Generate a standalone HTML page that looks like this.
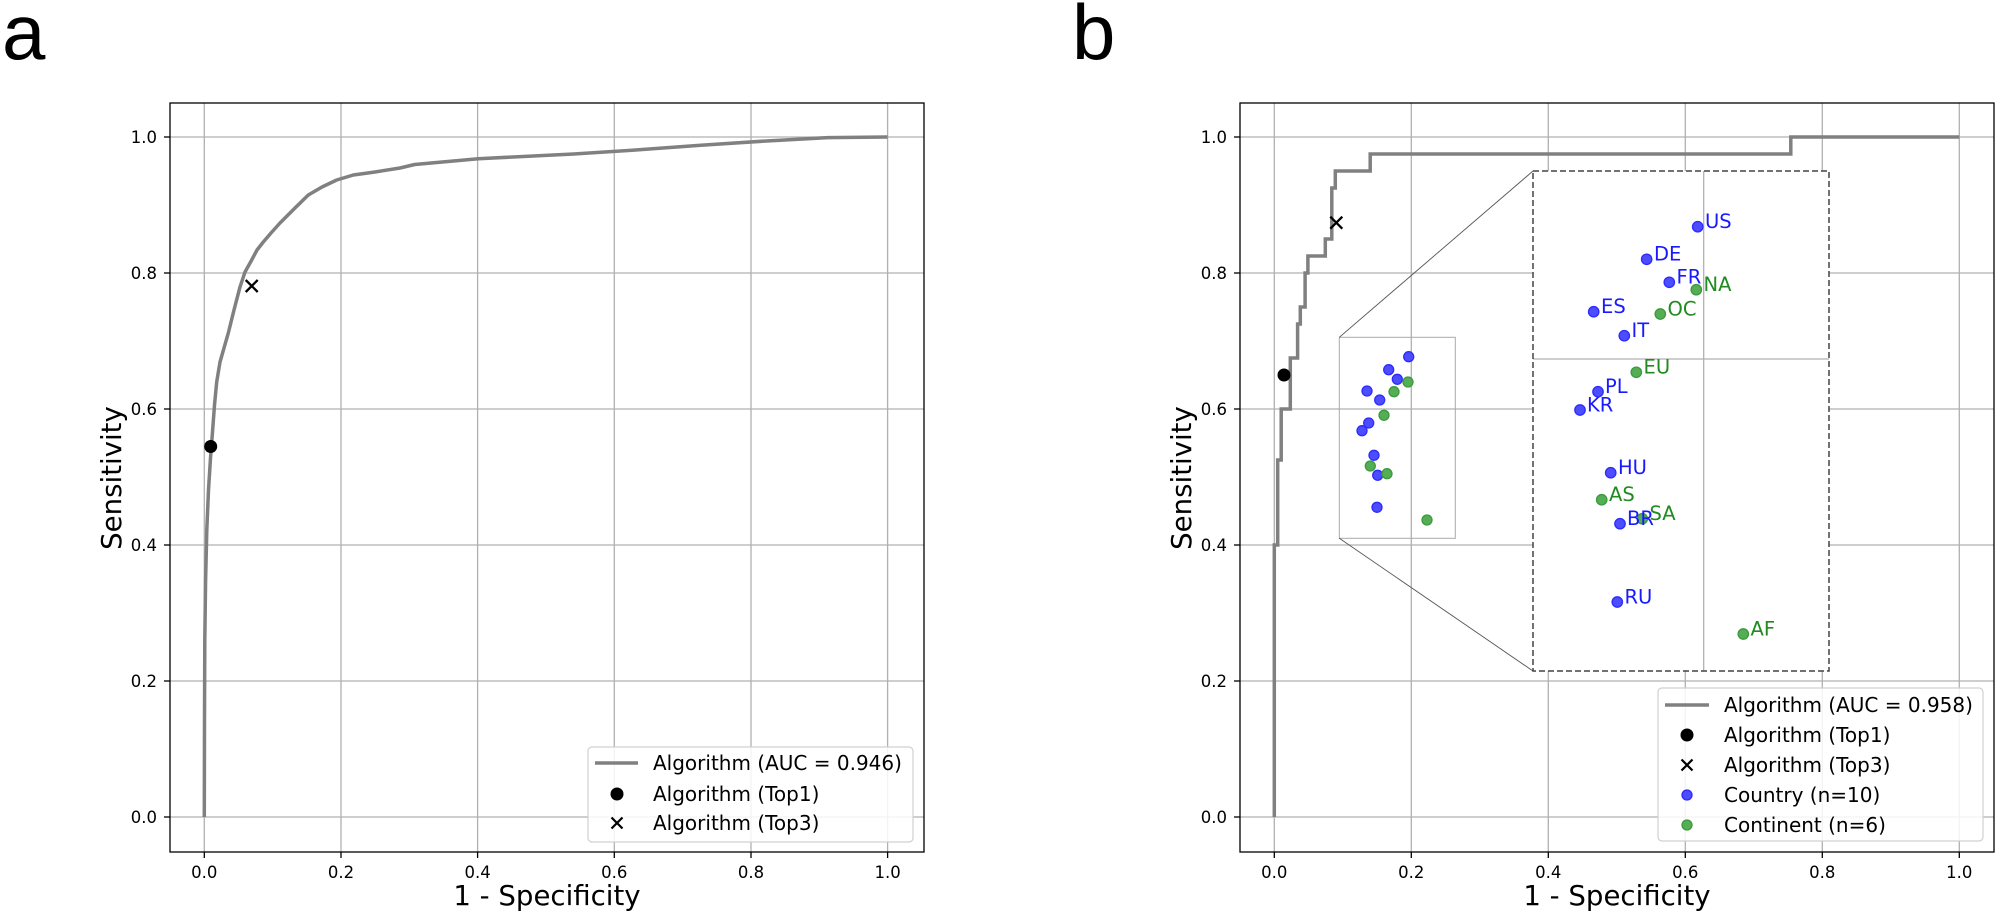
<!DOCTYPE html>
<html><head><meta charset="utf-8"><style>
html,body{margin:0;padding:0;background:#fff;}
svg{display:block;font-family:"DejaVu Sans","Liberation Sans",sans-serif;}
.tk{font-size:16.5px;fill:#000;}
.lg{font-size:20px;fill:#000;}
.lb{font-size:19.5px;}
</style></head><body>
<svg width="2000" height="920" viewBox="0 0 2000 920" xmlns="http://www.w3.org/2000/svg">
<rect width="2000" height="920" fill="#fff"/>
<text x="2" y="59" font-size="78" font-family="Liberation Sans,sans-serif">a</text>
<text x="1072" y="59" font-size="78" font-family="Liberation Sans,sans-serif">b</text>

<!-- ===== Panel a ===== -->
<g stroke="#b0b0b0" stroke-width="1.3">
<line x1="204.3" y1="103" x2="204.3" y2="852"/><line x1="341" y1="103" x2="341" y2="852"/><line x1="477.6" y1="103" x2="477.6" y2="852"/><line x1="614.3" y1="103" x2="614.3" y2="852"/><line x1="751" y1="103" x2="751" y2="852"/><line x1="887.6" y1="103" x2="887.6" y2="852"/>
<line x1="170" y1="817" x2="924" y2="817"/><line x1="170" y1="681" x2="924" y2="681"/><line x1="170" y1="545" x2="924" y2="545"/><line x1="170" y1="409" x2="924" y2="409"/><line x1="170" y1="273" x2="924" y2="273"/><line x1="170" y1="137" x2="924" y2="137"/>
</g>
<path d="M204.3,817 L204.5,720 L204.8,640 L205.6,580 L206.8,530 L208.5,490 L210.5,458 L212.5,432 L214.5,405 L216.7,382 L220,362 L224,348 L228.3,333 L234,310 L240,287 L245,272 L251.7,260 L257,250 L263.3,242 L271,233 L280,223 L295,208 L308.3,195 L322,187 L336.7,180 L353.3,175 L375,172 L400,168 L414.7,164.5 L478.3,158.7 L573.7,154 L637.2,149.9 L700.8,145.2 L764.4,141.1 L827.9,137.6 L887.6,137" fill="none" stroke="#808080" stroke-width="3.5" stroke-linejoin="round"/>
<circle cx="210.7" cy="446.5" r="6.5" fill="#000"/>
<path d="M245.7,280 L257.7,292 M257.7,280 L245.7,292" stroke="#000" stroke-width="2.3"/>
<rect x="170" y="103" width="754" height="749" fill="none" stroke="#000" stroke-width="1.3"/>
<g stroke="#000" stroke-width="1.3">
<line x1="204.3" y1="852" x2="204.3" y2="858"/><line x1="341" y1="852" x2="341" y2="858"/><line x1="477.6" y1="852" x2="477.6" y2="858"/><line x1="614.3" y1="852" x2="614.3" y2="858"/><line x1="751" y1="852" x2="751" y2="858"/><line x1="887.6" y1="852" x2="887.6" y2="858"/>
<line x1="164" y1="817" x2="170" y2="817"/><line x1="164" y1="681" x2="170" y2="681"/><line x1="164" y1="545" x2="170" y2="545"/><line x1="164" y1="409" x2="170" y2="409"/><line x1="164" y1="273" x2="170" y2="273"/><line x1="164" y1="137" x2="170" y2="137"/>
</g>
<g class="tk" text-anchor="middle">
<text x="204.3" y="878">0.0</text><text x="341" y="878">0.2</text><text x="477.6" y="878">0.4</text><text x="614.3" y="878">0.6</text><text x="751" y="878">0.8</text><text x="887.6" y="878">1.0</text>
</g>
<g class="tk" text-anchor="end">
<text x="157" y="823">0.0</text><text x="157" y="687">0.2</text><text x="157" y="551">0.4</text><text x="157" y="415">0.6</text><text x="157" y="279">0.8</text><text x="157" y="143">1.0</text>
</g>
<text x="547" y="905" font-size="27.6" text-anchor="middle">1 - Specificity</text>
<text transform="translate(121,478) rotate(-90)" font-size="27.6" text-anchor="middle">Sensitivity</text>
<rect x="588" y="747" width="325" height="95" rx="4" fill="#fff" fill-opacity="0.85" stroke="#d0d0d0" stroke-width="1.2"/>
<line x1="595" y1="763" x2="638" y2="763" stroke="#808080" stroke-width="3.5"/>
<circle cx="617" cy="794" r="6.5" fill="#000"/>
<path d="M611.5,817.5 L622.5,828.5 M622.5,817.5 L611.5,828.5" stroke="#000" stroke-width="2.2"/>
<text class="lg" x="653" y="770">Algorithm (AUC = 0.946)</text>
<text class="lg" x="653" y="801">Algorithm (Top1)</text>
<text class="lg" x="653" y="830">Algorithm (Top3)</text>

<!-- ===== Panel b ===== -->
<g stroke="#b0b0b0" stroke-width="1.3">
<line x1="1274.3" y1="103" x2="1274.3" y2="852"/><line x1="1411.3" y1="103" x2="1411.3" y2="852"/><line x1="1548.3" y1="103" x2="1548.3" y2="852"/><line x1="1685.3" y1="103" x2="1685.3" y2="852"/><line x1="1822.3" y1="103" x2="1822.3" y2="852"/><line x1="1959.3" y1="103" x2="1959.3" y2="852"/>
<line x1="1240" y1="817" x2="1994" y2="817"/><line x1="1240" y1="681" x2="1994" y2="681"/><line x1="1240" y1="545" x2="1994" y2="545"/><line x1="1240" y1="409" x2="1994" y2="409"/><line x1="1240" y1="273" x2="1994" y2="273"/><line x1="1240" y1="137" x2="1994" y2="137"/>
</g>
<path d="M1274.3,817 V545 H1277.7 V460 H1281.2 V409 H1290.3 V358 H1297.6 V324 H1300.3 V307 H1305.1 V273 H1307.9 V256 H1325.3 V239 H1331.8 V188 H1335.3 V171 H1370.2 V154 H1790.8 V137 H1959.3" fill="none" stroke="#808080" stroke-width="3.5"/>
<circle cx="1284" cy="375" r="6.5" fill="#000"/>
<path d="M1330.3,216.7 L1342.3,228.7 M1342.3,216.7 L1330.3,228.7" stroke="#000" stroke-width="2.3"/>
<rect x="1339.3" y="337.3" width="116" height="201" fill="none" stroke="#aaa" stroke-width="1"/>
<g stroke-width="1.3">
<g fill="#4d4dff" stroke="#2b2bff">
<circle cx="1408.7" cy="356.7" r="5"/><circle cx="1388.7" cy="369.7" r="5"/><circle cx="1397.3" cy="379.3" r="5"/><circle cx="1367" cy="391" r="5"/><circle cx="1379.7" cy="400" r="5"/><circle cx="1368.7" cy="423" r="5"/><circle cx="1362" cy="430.7" r="5"/><circle cx="1374" cy="455.3" r="5"/><circle cx="1377.7" cy="475.3" r="5"/><circle cx="1377" cy="507.3" r="5"/>
</g>
<g fill="#55ad55" stroke="#3c9a3c">
<circle cx="1408" cy="382" r="5"/><circle cx="1394" cy="391.7" r="5"/><circle cx="1384" cy="415.3" r="5"/><circle cx="1370.3" cy="466" r="5"/><circle cx="1387" cy="473.7" r="5"/><circle cx="1427" cy="520" r="5"/>
</g>
</g>
<line x1="1339.3" y1="337.3" x2="1533" y2="171" stroke="#555" stroke-width="0.9"/>
<line x1="1339.3" y1="538.3" x2="1533" y2="671" stroke="#555" stroke-width="0.9"/>
<rect x="1533" y="171" width="296" height="500" fill="#fff"/>
<line x1="1703.7" y1="171" x2="1703.7" y2="671" stroke="#b0b0b0" stroke-width="1.3"/>
<line x1="1533" y1="359" x2="1829" y2="359" stroke="#b0b0b0" stroke-width="1.3"/>
<g stroke-width="1.3">
<g fill="#4d4dff" stroke="#2b2bff">
<circle cx="1697.7" cy="226.7" r="5.2"/><circle cx="1646.7" cy="259.3" r="5.2"/><circle cx="1669.3" cy="282.3" r="5.2"/><circle cx="1593.7" cy="311.7" r="5.2"/><circle cx="1624.3" cy="335.7" r="5.2"/><circle cx="1598" cy="391.7" r="5.2"/><circle cx="1580" cy="410" r="5.2"/><circle cx="1610.7" cy="472.7" r="5.2"/><circle cx="1620" cy="523.7" r="5.2"/><circle cx="1617.3" cy="602" r="5.2"/>
</g>
<g fill="#55ad55" stroke="#3c9a3c">
<circle cx="1696.3" cy="289.7" r="5.2"/><circle cx="1660.3" cy="314" r="5.2"/><circle cx="1636.3" cy="372.3" r="5.2"/><circle cx="1601.7" cy="499.7" r="5.2"/><circle cx="1642.3" cy="518.7" r="5.2"/><circle cx="1743.3" cy="634" r="5.2"/>
</g>
</g>
<g class="lb" fill="#1a1aff">
<text x="1705" y="228">US</text><text x="1654" y="260.5">DE</text><text x="1676.5" y="283.5">FR</text><text x="1601" y="313">ES</text><text x="1631.5" y="337">IT</text><text x="1605" y="393">PL</text><text x="1587" y="411.5">KR</text><text x="1618" y="474">HU</text><text x="1627" y="525">BR</text><text x="1624.5" y="603.5">RU</text>
</g>
<g class="lb" fill="#218a21">
<text x="1703.5" y="291">NA</text><text x="1667.5" y="315.5">OC</text><text x="1643.5" y="373.5">EU</text><text x="1609" y="501">AS</text><text x="1649.5" y="520">SA</text><text x="1750.5" y="635.5">AF</text>
</g>
<rect x="1533" y="171" width="296" height="500" fill="none" stroke="#444" stroke-width="1.5" stroke-dasharray="6,3"/>
<rect x="1240" y="103" width="754" height="749" fill="none" stroke="#000" stroke-width="1.3"/>
<g stroke="#000" stroke-width="1.3">
<line x1="1274.3" y1="852" x2="1274.3" y2="858"/><line x1="1411.3" y1="852" x2="1411.3" y2="858"/><line x1="1548.3" y1="852" x2="1548.3" y2="858"/><line x1="1685.3" y1="852" x2="1685.3" y2="858"/><line x1="1822.3" y1="852" x2="1822.3" y2="858"/><line x1="1959.3" y1="852" x2="1959.3" y2="858"/>
<line x1="1234" y1="817" x2="1240" y2="817"/><line x1="1234" y1="681" x2="1240" y2="681"/><line x1="1234" y1="545" x2="1240" y2="545"/><line x1="1234" y1="409" x2="1240" y2="409"/><line x1="1234" y1="273" x2="1240" y2="273"/><line x1="1234" y1="137" x2="1240" y2="137"/>
</g>
<g class="tk" text-anchor="middle">
<text x="1274.3" y="878">0.0</text><text x="1411.3" y="878">0.2</text><text x="1548.3" y="878">0.4</text><text x="1685.3" y="878">0.6</text><text x="1822.3" y="878">0.8</text><text x="1959.3" y="878">1.0</text>
</g>
<g class="tk" text-anchor="end">
<text x="1227" y="823">0.0</text><text x="1227" y="687">0.2</text><text x="1227" y="551">0.4</text><text x="1227" y="415">0.6</text><text x="1227" y="279">0.8</text><text x="1227" y="143">1.0</text>
</g>
<text x="1617" y="905" font-size="27.6" text-anchor="middle">1 - Specificity</text>
<text transform="translate(1191,478) rotate(-90)" font-size="27.6" text-anchor="middle">Sensitivity</text>
<rect x="1658" y="688" width="325" height="153" rx="4" fill="#fff" fill-opacity="0.85" stroke="#d0d0d0" stroke-width="1.2"/>
<line x1="1665" y1="705" x2="1709" y2="705" stroke="#808080" stroke-width="3.5"/>
<circle cx="1687" cy="735" r="6.5" fill="#000"/>
<path d="M1681.5,759.5 L1692.5,770.5 M1692.5,759.5 L1681.5,770.5" stroke="#000" stroke-width="2.2"/>
<circle cx="1687" cy="795" r="5" fill="#4d4dff" stroke="#2b2bff" stroke-width="1.3"/>
<circle cx="1687" cy="825" r="5" fill="#55ad55" stroke="#3c9a3c" stroke-width="1.3"/>
<text class="lg" x="1724" y="712">Algorithm (AUC = 0.958)</text>
<text class="lg" x="1724" y="742">Algorithm (Top1)</text>
<text class="lg" x="1724" y="772">Algorithm (Top3)</text>
<text class="lg" x="1724" y="802">Country (n=10)</text>
<text class="lg" x="1724" y="832">Continent (n=6)</text>
</svg>
</body></html>
